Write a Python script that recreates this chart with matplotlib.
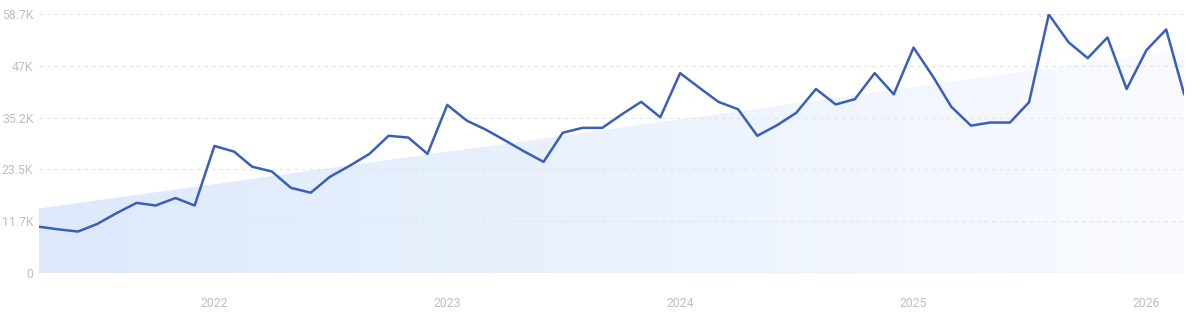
import numpy as np
import pandas as pd
import matplotlib.pyplot as plt
import matplotlib.dates as mdates
from matplotlib.colors import LinearSegmentedColormap
from matplotlib.patches import Polygon

plt.rcParams["font.family"] = ["Roboto", "DejaVu Sans"]

# monthly values, Apr 2021 .. Mar 2026 (thousands)
months = pd.date_range("2021-04-01", periods=60, freq="MS")
values_k = [
    10.5, 9.9, 9.4, 11.1, 13.6, 15.9, 15.3, 17.0, 15.3,
    28.8, 27.5, 24.1, 23.0, 19.3, 18.2, 21.8, 24.3, 27.0, 31.1, 30.7, 27.0,
    38.1, 34.5, 32.6, 30.1, 27.6, 25.2, 31.8, 32.9, 32.9, 35.9, 38.8, 35.3,
    45.3, 41.9, 38.8, 37.1, 31.1, 33.5, 36.3, 41.7, 38.2, 39.4, 45.3, 40.5,
    51.1, 44.4, 37.7, 33.4, 34.1, 34.1, 38.7, 58.6, 52.3, 48.7, 53.4, 41.7,
    50.5, 55.2, 40.6,
]
y_ticks = [0, 11700, 23500, 35200, 47000, 58700]
y_labels = ["0", "11.7K", "23.5K", "35.2K", "47K", "58.7K"]
year_ticks = ["2022", "2023", "2024", "2025", "2026"]

values = np.array(values_k) * 1000
x = mdates.date2num(months)

fig = plt.figure(figsize=(12, 3.15), dpi=100)
ax = fig.add_axes([0.0325, 0.1333, 0.9542, 0.8222])

# trend area with a soft left-to-right gradient
slope, icpt = np.polyfit(x, values, 1)
trend = slope * x + icpt
poly = Polygon(list(zip(x, trend)) + [(x[-1], 0), (x[0], 0)],
               closed=True, facecolor="none", edgecolor="none")
ax.add_patch(poly)
cmap = LinearSegmentedColormap.from_list("fade", ["#dde9fb", "#f9fbff"])
grad = np.linspace(0, 1, 256).reshape(1, -1)
img = ax.imshow(grad, cmap=cmap, aspect="auto", origin="lower",
                extent=[x[0], x[-1], 0, 60000], zorder=1)
img.set_clip_path(poly)

ax.plot(x, values, color="#3a5fb9", lw=1.8, zorder=3)

ax.set_xlim(x[0], x[-1])
ax.set_ylim(0, 58700)
ax.set_yticks(y_ticks)
ax.set_yticklabels(y_labels)
ax.set_xticks(mdates.date2num(pd.to_datetime([f"{y}-01-01" for y in year_ticks])))
ax.set_xticklabels(year_ticks)

for t in y_ticks[1:]:
    ax.axhline(t, color="#e4e6ea", lw=0.9, ls=(0, (3, 3)), zorder=2)
ax.axhline(0, color="#e3e8f2", lw=1.0, zorder=2)

for s in ax.spines.values():
    s.set_visible(False)
ax.tick_params(axis="both", length=0, labelsize=8.8, labelcolor="#bfbfbf")
ax.tick_params(axis="y", pad=4)
ax.tick_params(axis="x", pad=17)

fig.savefig("out.png", dpi=100)
